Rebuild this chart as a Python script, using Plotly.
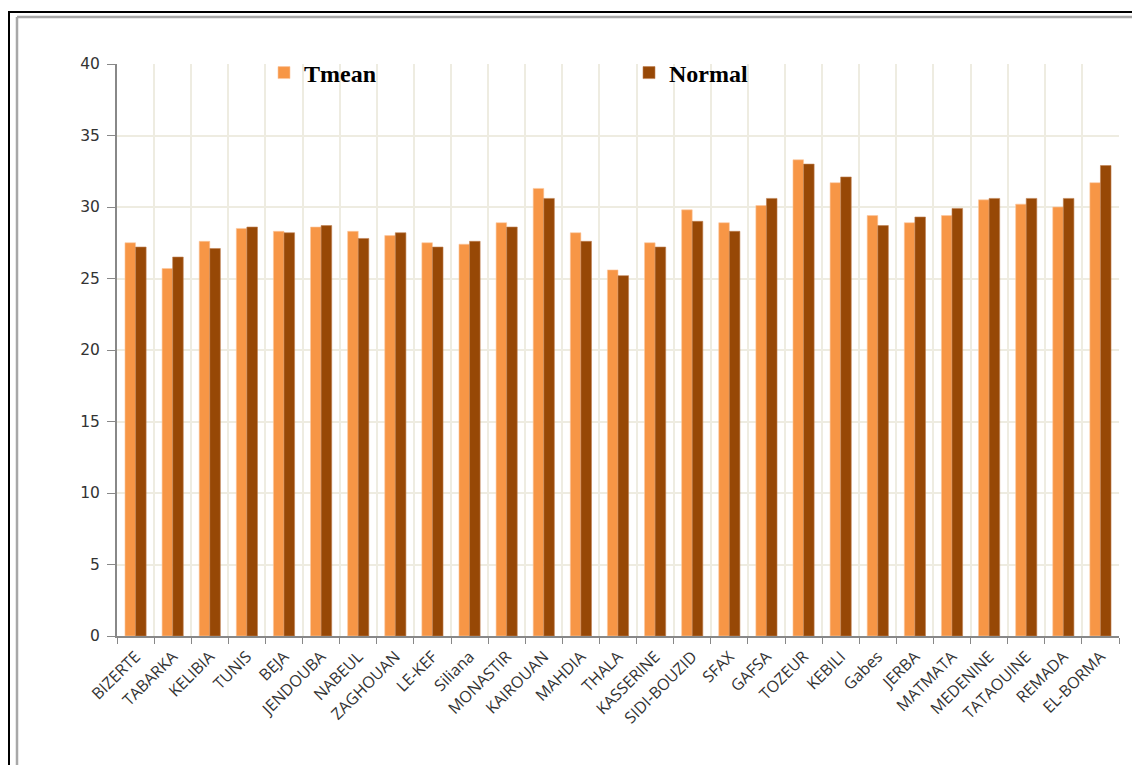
import plotly.graph_objects as go

stations = ["BIZERTE", "TABARKA", "KELIBIA", "TUNIS", "BEJA", "JENDOUBA", "NABEUL",
            "ZAGHOUAN", "LE-KEF", "Siliana", "MONASTIR", "KAIROUAN", "MAHDIA", "THALA",
            "KASSERINE", "SIDI-BOUZID", "SFAX", "GAFSA", "TOZEUR", "KEBILI", "Gabes",
            "JERBA", "MATMATA", "MEDENINE", "TATAOUINE", "REMADA", "EL-BORMA"]
tmean = [27.5, 25.7, 27.6, 28.5, 28.3, 28.6, 28.3, 28.0, 27.5, 27.4, 28.9, 31.3, 28.2, 25.6,
         27.5, 29.8, 28.9, 30.1, 33.3, 31.7, 29.4, 28.9, 29.4, 30.5, 30.2, 30.0, 31.7]
normal = [27.2, 26.5, 27.1, 28.6, 28.2, 28.7, 27.8, 28.2, 27.2, 27.6, 28.6, 30.6, 27.6, 25.2,
          27.2, 29.0, 28.3, 30.6, 33.0, 32.1, 28.7, 29.3, 29.9, 30.6, 30.6, 30.6, 32.9]
y_ticks = [0, 5, 10, 15, 20, 25, 30, 35, 40]

# page has an 8px body margin; figure coordinates = page coordinates - 8
OFF = 8
W, H = 1140 - OFF, 765 - OFF
L, R, T, B = 117 - OFF, 1119 - OFF, 64 - OFF, 636 - OFF

def px(x):
    return (x - OFF - L) / (R - L)

def py(y):
    return (B - (y - OFF)) / (B - T)

fig = go.Figure()
fig.add_trace(go.Bar(name="Tmean", x=stations, y=tmean,
                     marker=dict(color="#F79646", line=dict(color="#FBC8A0", width=0.6))))
fig.add_trace(go.Bar(name="Normal", x=stations, y=normal,
                     marker=dict(color="#974806", line=dict(color="#C08050", width=0.6))))

grid = "#EEECE1"
fig.update_layout(
    width=W, height=H,
    margin=dict(l=L, r=W - R, t=T, b=H - B, pad=0),
    paper_bgcolor="white", plot_bgcolor="white",
    barmode="group", bargap=0.43, bargroupgap=0.0,
    font=dict(family="DejaVu Sans", color="#333333"),
    showlegend=True,
    legend=dict(orientation="h", x=px(264), y=py(73), xanchor="left", yanchor="middle",
                entrywidth=320, entrywidthmode="pixels",
                font=dict(family="Liberation Serif", size=24, color="#000000", weight="bold"),
                bgcolor="rgba(0,0,0,0)", itemclick=False),
    xaxis=dict(type="category", tickson="boundaries", ticks="outside", ticklen=6,
               tickcolor="#888888", showline=True, linecolor="#888888", linewidth=2,
               showgrid=True, gridcolor=grid, gridwidth=2, tickangle=-45,
               ticklabelstandoff=3,
               tickfont=dict(family="Open Sans", size=16, color="#333333")),
    yaxis=dict(range=[0, 40], tickvals=y_ticks, ticks="outside", ticklen=8,
               tickcolor="#888888", showline=True, linecolor="#888888", linewidth=2,
               showgrid=True, gridcolor=grid, gridwidth=2, zeroline=False,
               ticklabelstandoff=4,
               tickfont=dict(family="DejaVu Sans", size=15.5, color="#333333")),
    shapes=[
        dict(type="line", xref="paper", yref="paper", x0=px(9), x1=px(9), y0=py(12), y1=py(780),
             line=dict(color="#000000", width=2)),
        dict(type="line", xref="paper", yref="paper", x0=px(8), x1=px(1150), y0=py(12), y1=py(12),
             line=dict(color="#000000", width=2)),
        dict(type="line", xref="paper", yref="paper", x0=px(17), x1=px(17), y0=py(17), y1=py(780),
             line=dict(color="#A8A8A8", width=2.5)),
        dict(type="line", xref="paper", yref="paper", x0=px(17), x1=px(1150), y0=py(17), y1=py(17),
             line=dict(color="#A8A8A8", width=2.5)),
    ],
)

fig.write_html("out.html")
